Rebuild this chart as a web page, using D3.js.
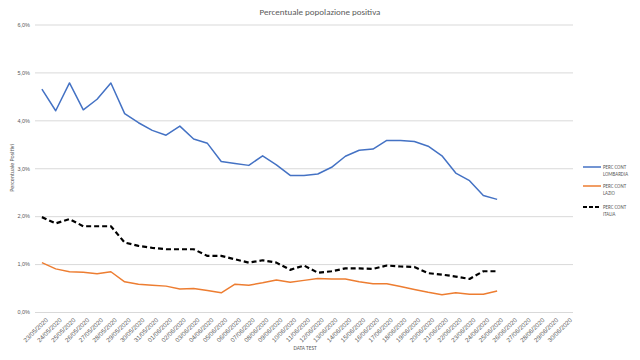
<!DOCTYPE html>
<html><head><meta charset="utf-8">
<script src="https://cdn.jsdelivr.net/npm/d3@7"></script>
<style>body{margin:0;background:#fff;}svg{display:block;font-family:Calibri,"Liberation Sans",Carlito,"Open Sans",sans-serif;}</style>
</head><body><svg id="c" width="640" height="360"></svg>
<script>
const dates = (function(){const a=[];for(let d=23;d<=31;d++)a.push(String(d).padStart(2,"0")+"/05/2020");for(let d=1;d<=30;d++)a.push(String(d).padStart(2,"0")+"/06/2020");return a;})();
const lombardia = [4.65,4.20,4.78,4.22,4.44,4.78,4.14,3.95,3.79,3.69,3.88,3.61,3.52,3.14,3.10,3.06,3.26,3.07,2.85,2.85,2.88,3.02,3.25,3.375,3.40,3.58,3.58,3.56,3.46,3.26,2.90,2.74,2.43,2.35];
const lazio = [1.03,0.90,0.84,0.83,0.80,0.84,0.63,0.58,0.56,0.54,0.48,0.49,0.45,0.40,0.58,0.56,0.61,0.67,0.62,0.66,0.70,0.69,0.69,0.63,0.59,0.59,0.53,0.47,0.41,0.36,0.40,0.37,0.37,0.44];
const italia = [1.98,1.85,1.94,1.79,1.79,1.79,1.45,1.38,1.34,1.31,1.31,1.31,1.17,1.17,1.10,1.03,1.08,1.03,0.88,0.97,0.82,0.85,0.91,0.91,0.90,0.97,0.95,0.94,0.81,0.78,0.74,0.69,0.85,0.85];
const yTicks = [0,1,2,3,4,5,6];
const seriesNames = [["PERC CONT","LOMBARDIA"],["PERC CONT","LAZIO"],["PERC CONT","ITALIA"]];

const svg = d3.select("#c");
const L=35,R=573,T=24.5,B=312;
const x = d3.scaleBand().domain(dates).range([L,R]);
const y = d3.scaleLinear().domain([0,6]).range([B,T]);
const fmt = v => v.toFixed(1).replace(".",",")+"%";

svg.append("text").attr("x",320).attr("y",15).attr("text-anchor","middle").attr("font-size",9).attr("fill","#595959").text("Percentuale popolazione positiva");

const ya = svg.append("g").attr("transform",`translate(${L},0)`).call(d3.axisLeft(y).tickValues(yTicks).tickFormat(fmt).tickSize(-(R-L)).tickPadding(5));
ya.select(".domain").remove();
ya.selectAll(".tick line").attr("stroke","#d9d9d9").attr("stroke-width",1);
ya.selectAll(".tick text").attr("fill","#595959").attr("font-size",5.5).attr("font-family",null);

const xa = svg.append("g").attr("transform",`translate(0,${B})`).call(d3.axisBottom(x).tickSize(0));
xa.select(".domain").remove();
xa.selectAll(".tick text").attr("fill","#595959").attr("font-size",6.3).attr("font-family",null)
  .attr("text-anchor","end").attr("transform","translate(3,5) rotate(-45)").attr("dy","0.3em");

svg.append("text").attr("transform","translate(14,168) rotate(-90)").attr("text-anchor","middle").attr("font-size",6).attr("fill","#595959").text("Percentuale Positivi");
svg.append("text").attr("x",305).attr("y",350).attr("text-anchor","middle").attr("font-size",5.5).attr("fill","#595959").text("DATA TEST");

const line = d3.line().x((d,i)=>x(dates[i])+x.bandwidth()/2).y(d=>y(d));
const series = [{v:lombardia,c:"#4472C4",dash:null,w:1.5},{v:lazio,c:"#ED7D31",dash:null,w:1.5},{v:italia,c:"#000",dash:"5,3",w:2.2}];
series.forEach(s=>{
  svg.append("path").datum(s.v).attr("d",line).attr("fill","none").attr("stroke",s.c).attr("stroke-width",s.w).attr("stroke-linejoin","round").attr("stroke-dasharray",s.dash);
});

const lg = svg.append("g");
const ly=[167,186,207];
series.forEach((s,i)=>{
  lg.append("line").attr("x1",583).attr("x2",601).attr("y1",ly[i]).attr("y2",ly[i]).attr("stroke",s.c).attr("stroke-width",s.w).attr("stroke-dasharray",s.dash?"4,2":null);
  const t=lg.append("text").attr("x",603).attr("y",ly[i]+2).attr("font-size",5).attr("fill","#595959");
  t.append("tspan").attr("x",603).text(seriesNames[i][0]);
  t.append("tspan").attr("x",603).attr("dy",7).text(seriesNames[i][1]);
});
</script></body></html>
